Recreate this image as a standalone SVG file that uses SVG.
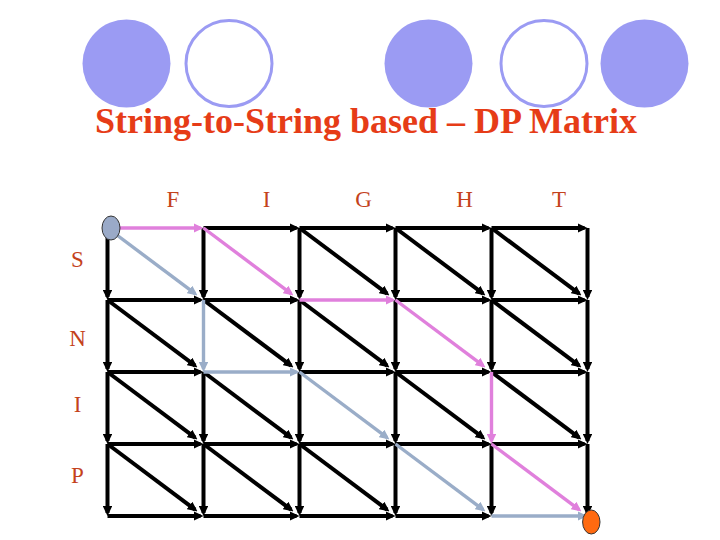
<svg xmlns="http://www.w3.org/2000/svg" width="720" height="540" viewBox="0 0 720 540">
<style>
.bul{fill:#9b9bf3}
.bulo{fill:#fff;stroke:#9b9bf3;stroke-width:3}
.title{font-family:"Liberation Serif","Times New Roman",serif;font-weight:bold;font-size:36px;fill:#e63c17}
.lbl{font-family:"Liberation Serif","Times New Roman",serif;font-size:23px;fill:#c4421c;text-anchor:middle}
.k{stroke:#000;stroke-width:4;fill:none;marker-end:url(#ak)}
.p{stroke:#e080dc;stroke-width:3.4;fill:none;marker-end:url(#ap)}
.g{stroke:#9aadc8;stroke-width:3.4;fill:none;marker-end:url(#ag)}
</style>
<defs>
<marker id="ak" markerUnits="userSpaceOnUse" markerWidth="10" markerHeight="9.5" refX="7" refY="4.75" orient="auto"><path d="M0,0 L10,4.75 L0,9.5 z" fill="#000"/></marker>
<marker id="ap" markerUnits="userSpaceOnUse" markerWidth="10" markerHeight="9.5" refX="7" refY="4.75" orient="auto"><path d="M0,0 L10,4.75 L0,9.5 z" fill="#e080dc"/></marker>
<marker id="ag" markerUnits="userSpaceOnUse" markerWidth="10" markerHeight="9.5" refX="7" refY="4.75" orient="auto"><path d="M0,0 L10,4.75 L0,9.5 z" fill="#9aadc8"/></marker>
</defs>
<rect width="720" height="540" fill="#fff"/>
<g id="decor">
<ellipse class="bul" cx="126.5" cy="63.5" rx="44" ry="44"/>
<ellipse class="bulo" cx="229" cy="63.5" rx="43" ry="43"/>
<ellipse class="bul" cx="428.5" cy="63.5" rx="44" ry="44"/>
<ellipse class="bulo" cx="544" cy="63.5" rx="43" ry="43"/>
<ellipse class="bul" cx="644.5" cy="63.5" rx="44" ry="44"/>
</g>
<g id="title"><text class="title" x="95" y="133">String-to-String based – DP Matrix</text></g>
<g id="col-labels">
<text class="lbl" x="173" y="207">F</text>
<text class="lbl" x="266.5" y="207">I</text>
<text class="lbl" x="363.5" y="207">G</text>
<text class="lbl" x="464.5" y="207">H</text>
<text class="lbl" x="559" y="207">T</text>
</g>
<g id="row-labels">
<text class="lbl" x="77.5" y="267">S</text>
<text class="lbl" x="77.5" y="346">N</text>
<text class="lbl" x="77.5" y="411.5">I</text>
<text class="lbl" x="77.5" y="483">P</text>
</g>
<g id="connectors">
<!-- horizontal black -->
<line class="k" x1="203.5" y1="228" x2="296.5" y2="228"/>
<line class="k" x1="299.5" y1="228" x2="392.5" y2="228"/>
<line class="k" x1="395.5" y1="228" x2="488.5" y2="228"/>
<line class="k" x1="491.5" y1="228" x2="584.5" y2="228"/>
<line class="k" x1="107.5" y1="300" x2="200.5" y2="300"/>
<line class="k" x1="203.5" y1="300" x2="296.5" y2="300"/>
<line class="k" x1="395.5" y1="300" x2="488.5" y2="300"/>
<line class="k" x1="491.5" y1="300" x2="584.5" y2="300"/>
<line class="k" x1="107.5" y1="372" x2="200.5" y2="372"/>
<line class="k" x1="299.5" y1="372" x2="392.5" y2="372"/>
<line class="k" x1="395.5" y1="372" x2="488.5" y2="372"/>
<line class="k" x1="491.5" y1="372" x2="584.5" y2="372"/>
<line class="k" x1="107.5" y1="444" x2="200.5" y2="444"/>
<line class="k" x1="203.5" y1="444" x2="296.5" y2="444"/>
<line class="k" x1="299.5" y1="444" x2="392.5" y2="444"/>
<line class="k" x1="395.5" y1="444" x2="488.5" y2="444"/>
<line class="k" x1="491.5" y1="444" x2="584.5" y2="444"/>
<line class="k" x1="107.5" y1="516" x2="200.5" y2="516"/>
<line class="k" x1="203.5" y1="516" x2="296.5" y2="516"/>
<line class="k" x1="299.5" y1="516" x2="392.5" y2="516"/>
<line class="k" x1="395.5" y1="516" x2="488.5" y2="516"/>
<!-- vertical black -->
<line class="k" x1="107.5" y1="228" x2="107.5" y2="297"/>
<line class="k" x1="203.5" y1="228" x2="203.5" y2="297"/>
<line class="k" x1="299.5" y1="228" x2="299.5" y2="297"/>
<line class="k" x1="395.5" y1="228" x2="395.5" y2="297"/>
<line class="k" x1="491.5" y1="228" x2="491.5" y2="297"/>
<line class="k" x1="587.5" y1="228" x2="587.5" y2="297"/>
<line class="k" x1="107.5" y1="300" x2="107.5" y2="369"/>
<line class="k" x1="299.5" y1="300" x2="299.5" y2="369"/>
<line class="k" x1="395.5" y1="300" x2="395.5" y2="369"/>
<line class="k" x1="491.5" y1="300" x2="491.5" y2="369"/>
<line class="k" x1="587.5" y1="300" x2="587.5" y2="369"/>
<line class="k" x1="107.5" y1="372" x2="107.5" y2="441"/>
<line class="k" x1="203.5" y1="372" x2="203.5" y2="441"/>
<line class="k" x1="299.5" y1="372" x2="299.5" y2="441"/>
<line class="k" x1="395.5" y1="372" x2="395.5" y2="441"/>
<line class="k" x1="587.5" y1="372" x2="587.5" y2="441"/>
<line class="k" x1="107.5" y1="444" x2="107.5" y2="513"/>
<line class="k" x1="203.5" y1="444" x2="203.5" y2="513"/>
<line class="k" x1="299.5" y1="444" x2="299.5" y2="513"/>
<line class="k" x1="395.5" y1="444" x2="395.5" y2="513"/>
<line class="k" x1="491.5" y1="444" x2="491.5" y2="513"/>
<line class="k" x1="587.5" y1="444" x2="587.5" y2="513"/>
<!-- diagonal black -->
<line class="k" x1="299.5" y1="228" x2="387.1" y2="293.7"/>
<line class="k" x1="395.5" y1="228" x2="483.1" y2="293.7"/>
<line class="k" x1="491.5" y1="228" x2="579.1" y2="293.7"/>
<line class="k" x1="107.5" y1="300" x2="195.1" y2="365.7"/>
<line class="k" x1="203.5" y1="300" x2="291.1" y2="365.7"/>
<line class="k" x1="299.5" y1="300" x2="387.1" y2="365.7"/>
<line class="k" x1="491.5" y1="300" x2="579.1" y2="365.7"/>
<line class="k" x1="107.5" y1="372" x2="195.1" y2="437.7"/>
<line class="k" x1="203.5" y1="372" x2="291.1" y2="437.7"/>
<line class="k" x1="395.5" y1="372" x2="483.1" y2="437.7"/>
<line class="k" x1="491.5" y1="372" x2="579.1" y2="437.7"/>
<line class="k" x1="107.5" y1="444" x2="195.1" y2="509.7"/>
<line class="k" x1="203.5" y1="444" x2="291.1" y2="509.7"/>
<line class="k" x1="299.5" y1="444" x2="387.1" y2="509.7"/>
<!-- gray path -->
<line class="g" x1="107.5" y1="228" x2="195.1" y2="293.7"/>
<line class="g" x1="203.5" y1="300" x2="203.5" y2="369"/>
<line class="g" x1="203.5" y1="372" x2="296.5" y2="372"/>
<line class="g" x1="299.5" y1="372" x2="387.1" y2="437.7"/>
<line class="g" x1="395.5" y1="444" x2="483.1" y2="509.7"/>
<line class="g" x1="491.5" y1="516" x2="584.5" y2="516"/>
<!-- pink path -->
<line class="p" x1="107.5" y1="228" x2="200.5" y2="228"/>
<line class="p" x1="203.5" y1="228" x2="291.1" y2="293.7"/>
<line class="p" x1="299.5" y1="300" x2="392.5" y2="300"/>
<line class="p" x1="395.5" y1="300" x2="483.1" y2="365.7"/>
<line class="p" x1="491.5" y1="372" x2="491.5" y2="441"/>
<line class="p" x1="491.5" y1="444" x2="579.1" y2="509.7"/>
</g>
<g id="start-node"><ellipse cx="111" cy="228" rx="9" ry="12" fill="#9aaac8" stroke="#333" stroke-width="1"/></g>
<g id="end-node"><ellipse cx="591.3" cy="522" rx="8.7" ry="12" fill="#ff6a10" stroke="#333" stroke-width="1"/></g>
</svg>
